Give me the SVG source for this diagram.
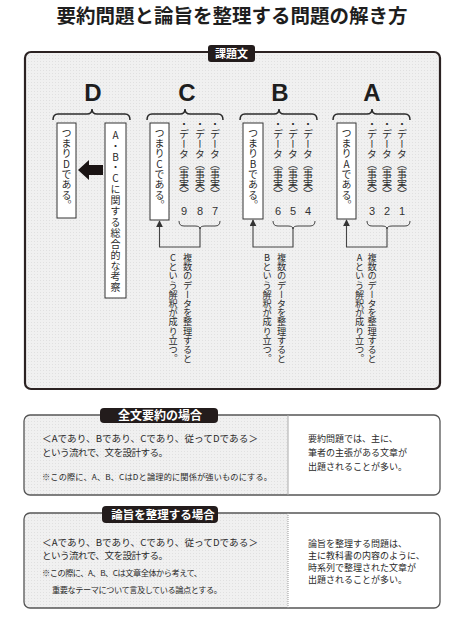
<svg xmlns="http://www.w3.org/2000/svg" width="463" height="629" viewBox="0 0 463 629">
<style>
  .jp { font-family: "Noto Sans CJK JP", "Noto Sans", sans-serif; fill: #2a2a2a; }
  .ttl { font-size: 19.5px; font-weight: 700; fill: #1e1e1e; }
  .lbl { font-family: "Noto Sans CJK JP", "Noto Sans", sans-serif; font-weight: 700; fill: #ffffff; }
  .big { font-family: "Liberation Sans Narrow", "Liberation Sans", sans-serif; font-weight: 700; font-size: 24px; fill: #1e1e1e; text-anchor: middle; }
  .vert { writing-mode: vertical-rl; text-orientation: upright; }
  .vmix { writing-mode: vertical-rl; }
  .box { fill: #ffffff; stroke: #333333; stroke-width: 1; }
  .brace { fill: none; stroke: #2b2b2b; stroke-width: 1.5; }
  .brk { fill: none; stroke: #444444; stroke-width: 1; }
  .con { fill: none; stroke: #444444; stroke-width: 1.1; }
  .tag { fill: #231c1c; }
  .num { font-family: "Liberation Sans", sans-serif; font-size: 11px; fill: #333; text-anchor: middle; }
  .t10 { font-size: 10px; }
  .t9 { font-size: 9.2px; }
  .body { font-size: 9.6px; }
  .rt { font-size: 9px; }
  .note { font-size: 8.2px; }
</style>
<defs>
  <pattern id="dots" width="3" height="3" patternUnits="userSpaceOnUse">
    <rect width="3" height="3" fill="#f0f0f0"/>
    <rect x="1" y="1" width="0.8" height="0.8" fill="#d8d8d8"/>
  </pattern>
  <marker id="up" viewBox="0 0 10 10" refX="9" refY="5" markerWidth="7" markerHeight="7" orient="auto" markerUnits="userSpaceOnUse">
    <path d="M0,0 L10,5 L0,10 z" fill="#333"/>
  </marker>
</defs>
<rect width="463" height="629" fill="#ffffff"/>

<text class="jp ttl" x="232" y="23" text-anchor="middle">要約問題と論旨を整理する問題の解き方</text>

<g id="frame">
  <rect x="25" y="52" width="415" height="337" rx="6" fill="url(#dots)" stroke="#2b2222" stroke-width="2.2"/>
  <rect class="tag" x="208" y="45" width="47" height="17" rx="3"/>
  <text class="lbl" x="231.5" y="57.5" font-size="11" text-anchor="middle">課題文</text>
</g>

<g id="group-D">
  <text class="big" x="93" y="101">D</text>
  <path class="brace" d="M53,120 Q53,114 58,114 L87,114 Q92,114 92,109 Q92,114 97,114 L125,114 Q130,114 130,120"/>
  <rect class="box" x="57" y="123" width="19" height="95"/>
  <text class="jp t10 vert" x="66.5" y="128" letter-spacing="0.3">つまりDである。</text>
  <rect class="box" x="105" y="123" width="21" height="175"/>
  <text class="jp t10 vert" x="115.5" y="130" letter-spacing="0.9">A・B・Cに関する総合的な考察</text>
  <polygon points="78,170 89,160 89,165 103,165 103,175 89,175 89,180" fill="#1a1414"/>
</g>

<g id="group-C">
  <text class="big" x="187" y="101">C</text>
  <path class="brace" d="M147,120 Q147,114 152,114 L180,114 Q185,114 185,109 Q185,114 190,114 L218,114 Q223,114 223,120"/>
  <rect class="box" x="150" y="123" width="19" height="97"/>
  <text class="jp t10 vert" x="159.5" y="128" letter-spacing="0.3">つまりCである。</text>
  <text class="jp t10 vmix" x="215" y="119">・データ（事実）</text>
  <text class="jp t10 vmix" x="200" y="119">・データ（事実）</text>
  <text class="jp t10 vmix" x="184" y="119">・データ（事実）</text>
  <text class="num" x="215" y="215">7</text>
  <text class="num" x="200" y="215">8</text>
  <text class="num" x="184" y="215">9</text>
  <path class="brk" d="M179,221 Q179,226 184,226 L195,226 Q200,226 200,229 Q200,226 205,226 L215,226 Q220,226 220,221"/>
  <text class="jp t9 vert" x="187.5" y="253">複数のデータを整理すると</text>
  <text class="jp t9 vert" x="173" y="253">Cという解釈が成り立つ。</text>
</g>

<g id="group-B">
  <text class="big" x="280" y="101">B</text>
  <path class="brace" d="M240,120 Q240,114 245,114 L274,114 Q279,114 279,109 Q279,114 284,114 L312,114 Q317,114 317,120"/>
  <rect class="box" x="243" y="123" width="20" height="96"/>
  <text class="jp t10 vert" x="253" y="128" letter-spacing="0.3">つまりBである。</text>
  <text class="jp t10 vmix" x="308" y="119">・データ（事実）</text>
  <text class="jp t10 vmix" x="293" y="119">・データ（事実）</text>
  <text class="jp t10 vmix" x="278" y="119">・データ（事実）</text>
  <text class="num" x="308" y="215">4</text>
  <text class="num" x="293" y="215">5</text>
  <text class="num" x="278" y="215">6</text>
  <path class="brk" d="M273,221 Q273,226 278,226 L288,226 Q293,226 293,229 Q293,226 298,226 L310,226 Q315,226 315,221"/>
  <text class="jp t9 vert" x="281.5" y="253">複数のデータを整理すると</text>
  <text class="jp t9 vert" x="267" y="253">Bという解釈が成り立つ。</text>
</g>

<g id="group-A">
  <text class="big" x="372" y="101">A</text>
  <path class="brace" d="M333,120 Q333,114 338,114 L367,114 Q372,114 372,109 Q372,114 377,114 L405,114 Q410,114 410,120"/>
  <rect class="box" x="337" y="123" width="19" height="96"/>
  <text class="jp t10 vert" x="346.5" y="128" letter-spacing="0.3">つまりAである。</text>
  <text class="jp t10 vmix" x="402" y="119">・データ（事実）</text>
  <text class="jp t10 vmix" x="387" y="119">・データ（事実）</text>
  <text class="jp t10 vmix" x="372" y="119">・データ（事実）</text>
  <text class="num" x="402" y="215">1</text>
  <text class="num" x="387" y="215">2</text>
  <text class="num" x="372" y="215">3</text>
  <path class="brk" d="M367,221 Q367,226 372,226 L382,226 Q387,226 387,229 Q387,226 392,226 L405,226 Q410,226 410,221"/>
  <text class="jp t9 vert" x="372" y="253">複数のデータを整理すると</text>
  <text class="jp t9 vert" x="359.5" y="253">Aという解釈が成り立つ。</text>
</g>

<g id="connectors">
  <path class="con" d="M200,227 L200,247 L159.5,247 L159.5,221" marker-end="url(#up)"/>
  <path class="con" d="M293,227 L293,247 L253,247 L253,220" marker-end="url(#up)"/>
  <path class="con" d="M387,227 L387,247 L346.5,247 L346.5,220" marker-end="url(#up)"/>
</g>

<g id="summary-case">
  <rect x="24" y="415" width="416" height="80" rx="6" fill="#ffffff"/>
  <path d="M288,415 L30,415 Q24,415 24,421 L24,489 Q24,495 30,495 L288,495 Z" fill="url(#dots)"/>
  <rect x="24" y="415" width="416" height="80" rx="6" fill="none" stroke="#555" stroke-width="1.3"/>
  <line x1="288" y1="415" x2="288" y2="495" stroke="#aaa" stroke-width="1"/>
  <rect class="tag" x="100" y="408" width="118" height="15" rx="4"/>
  <text class="lbl" x="160" y="420" font-size="12" text-anchor="middle">全文要約の場合</text>
  <text class="jp body" x="42" y="442" textLength="216" lengthAdjust="spacing">＜Aであり、Bであり、Cであり、従ってDである＞</text>
  <text class="jp body" x="42" y="456" textLength="126" lengthAdjust="spacing">という流れで、文を設計する。</text>
  <text class="jp note" x="42" y="479.5" textLength="230" lengthAdjust="spacing">※この際に、A、B、CはDと論理的に関係が強いものにする。</text>
  <text class="jp rt" x="308" y="442">要約問題では、主に、</text>
  <text class="jp rt" x="308" y="456">筆者の主張がある文章が</text>
  <text class="jp rt" x="308" y="470">出題されることが多い。</text>
</g>

<g id="thesis-case">
  <rect x="24" y="513" width="416" height="95" rx="6" fill="#ffffff"/>
  <path d="M288,513 L30,513 Q24,513 24,519 L24,602 Q24,608 30,608 L288,608 Z" fill="url(#dots)"/>
  <rect x="24" y="513" width="416" height="95" rx="6" fill="none" stroke="#555" stroke-width="1.3"/>
  <line x1="288" y1="513" x2="288" y2="608" stroke="#999" stroke-width="1" stroke-dasharray="1,1"/>
  <rect class="tag" x="102" y="506" width="116" height="17" rx="4"/>
  <text class="lbl" x="163" y="519" font-size="11.5" text-anchor="middle">論旨を整理する場合</text>
  <text class="jp body" x="42" y="545.5" textLength="216" lengthAdjust="spacing">＜Aであり、Bであり、Cであり、従ってDである＞</text>
  <text class="jp body" x="42" y="559" textLength="126" lengthAdjust="spacing">という流れで、文を設計する。</text>
  <text class="jp note" x="42" y="576" textLength="160" lengthAdjust="spacing">※この際に、A、B、Cは文章全体から考えて、</text>
  <text class="jp note" x="52" y="593" textLength="170" lengthAdjust="spacing">重要なテーマについて言及している論点とする。</text>
  <text class="jp rt" x="308" y="546.5">論旨を整理する問題は、</text>
  <text class="jp rt" x="308" y="558.8">主に教科書の内容のように、</text>
  <text class="jp rt" x="308" y="571.1">時系列で整理された文章が</text>
  <text class="jp rt" x="308" y="583.4">出題されることが多い。</text>
</g>
</svg>
